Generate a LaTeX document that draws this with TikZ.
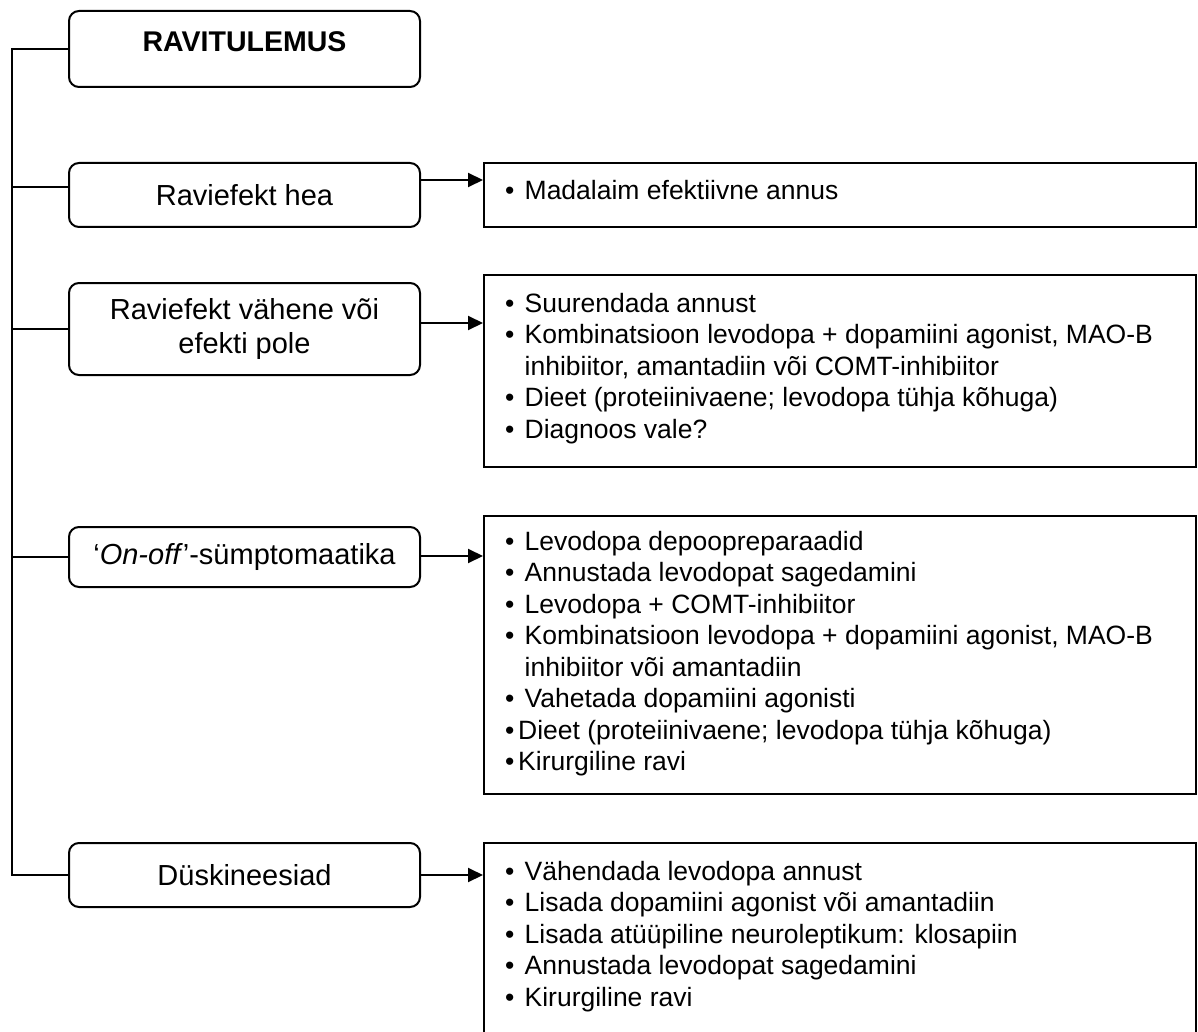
\documentclass[tikz,border=0pt]{standalone}
\usepackage{fontspec}
\setmainfont{Liberation Sans}
\usetikzlibrary{arrows.meta,calc}
\newcommand\bul{\makebox[19.5pt][l]{•}}
\newcommand\bulc{\makebox[13pt][l]{•}}
\newcommand\ind{\hspace*{19.5pt}}
\begin{document}
\begin{tikzpicture}[x=1pt,y=-1pt,
  lbox/.style={draw, line width=2pt, rounded corners=10pt, minimum width=351pt, inner sep=0pt, align=center, font=\fontsize{29}{33}\selectfont},
  rbox/.style={draw, line width=2pt, minimum width=712pt, inner sep=0pt},
  list/.style={anchor=base west, inner sep=0pt, align=left, font=\fontsize{26.5}{31.5}\selectfont},
  link/.style={line width=2pt},
  arr/.style={line width=2pt, -{Triangle[length=15pt,width=14pt]}}]
\useasboundingbox (0,0) rectangle (1198,1032);
\clip (0,0) rectangle (1198,1032);
% left boxes
\node[lbox, minimum height=76pt, text depth=14.5pt, font=\fontsize{28.5}{33}\selectfont\bfseries] (L1) at (244.5,49) {RAVITULEMUS};
\node[lbox, minimum height=64pt] (L2) at (244.5,195) {Raviefekt hea};
\node[lbox, minimum height=92pt] (L3) at (244.5,329) {Raviefekt vähene või\\efekti pole};
\node[lbox, minimum height=60pt] (L4) at (244.5,557) {‘\textit{On-off}’-sümptomaatika};
\node[lbox, minimum height=64pt] (L5) at (244.5,875) {Düskineesiad};
% right boxes
\node[rbox, minimum height=64pt] (R2) at (840,195) {};
\node[rbox, minimum height=192pt] (R3) at (840,371) {};
\node[rbox, minimum height=278pt] (R4) at (840,655) {};
\node[rbox, minimum height=217pt] (R5) at (840,951.5) {};
% lists (base anchor = baseline of the last line)
\node[list] (T2) at (505,200) {\bul Madalaim efektiivne annus};
\node[list] (T3) at (505,438) {\bul Suurendada annust\\
\bul Kombinatsioon levodopa + dopamiini agonist, MAO-B\\
\ind inhibiitor, amantadiin või COMT-inhibiitor\\
\bul Dieet (proteiinivaene; levodopa tühja kõhuga)\\
\bul Diagnoos vale?};
\node[list] (T4) at (505,770.5) {\bul Levodopa depoopreparaadid\\
\bul Annustada levodopat sagedamini\\
\bul Levodopa + COMT-inhibiitor\\
\bul Kombinatsioon levodopa + dopamiini agonist, MAO-B\\
\ind inhibiitor või amantadiin\\
\bul Vahetada dopamiini agonisti\\
\bulc Dieet (proteiinivaene; levodopa tühja kõhuga)\\
\bulc Kirurgiline ravi};
\node[list] (T5) at (505,1006) {\bul Vähendada levodopa annust\\
\bul Lisada dopamiini agonist või amantadiin\\
\bul Lisada atüüpiline neuroleptikum: klosapiin\\
\bul Annustada levodopat sagedamini\\
\bul Kirurgiline ravi};
% trunk and connectors
\coordinate (trunkTop) at (12,49);
\coordinate (trunkBot) at (12,875);
\draw[link] (L1.west) -- (trunkTop) -- (trunkBot) -- (L5.west);
\draw[link] ([yshift=8pt]L2.west) -- ([yshift=8pt]L2.west -| trunkTop);
\draw[link] (L3.west) -- (L3.west -| trunkTop);
\draw[link] (L4.west) -- (L4.west -| trunkTop);
% arrows
\draw[arr] ([yshift=15pt]L2.east) -- ([yshift=15pt]L2.east -| R2.west);
\draw[arr] ([yshift=6pt]L3.east) -- ([yshift=6pt]L3.east -| R3.west);
\draw[arr] ([yshift=1pt]L4.east) -- ([yshift=1pt]L4.east -| R4.west);
\draw[arr] (L5.east) -- (L5.east -| R5.west);
\end{tikzpicture}
\end{document}
